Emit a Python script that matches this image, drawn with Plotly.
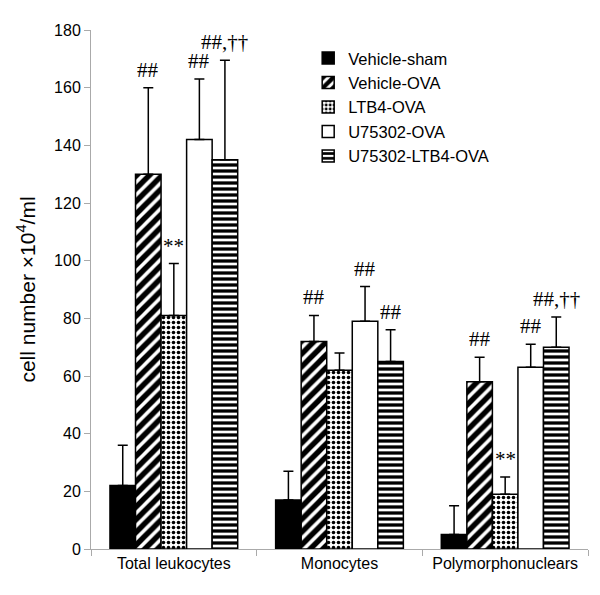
import plotly.graph_objects as go

categories = ["Total leukocytes", "Monocytes", "Polymorphonuclears"]
series_names = ["Vehicle-sham", "Vehicle-OVA", "LTB4-OVA", "U75302-OVA", "U75302-LTB4-OVA"]
vehicle_sham = [22, 17, 5]
vehicle_sham_err = [14, 10, 10]
vehicle_ova = [130, 72, 58]
vehicle_ova_err = [30, 9, 8.5]
ltb4_ova = [81, 62, 19]
ltb4_ova_err = [18, 6, 6]
u75302_ova = [142, 79, 63]
u75302_ova_err = [21, 12, 8]
u75302_ltb4_ova = [135, 65, 70]
u75302_ltb4_ova_err = [34.5, 11, 10.5]
y_ticks = [0, 20, 40, 60, 80, 100, 120, 140, 160, 180]

# significance marks: (category index, series index, text)
marks = [(0, 1, "##"), (0, 2, "**"), (0, 3, "##"), (0, 4, "##,††"),
         (1, 1, "##"), (1, 3, "##"), (1, 4, "##"),
         (2, 1, "##"), (2, 2, "**"), (2, 3, "##"), (2, 4, "##,††")]

values = [vehicle_sham, vehicle_ova, ltb4_ova, u75302_ova, u75302_ltb4_ova]
errors = [vehicle_sham_err, vehicle_ova_err, ltb4_ova_err, u75302_ova_err, u75302_ltb4_ova_err]

styles = [
    dict(color="black"),
    dict(color="white", pattern=dict(shape="/", fgcolor="black", bgcolor="white", fgopacity=1,
                                     size=9, solidity=0.6)),
    dict(color="white", pattern=dict(shape=".", fgcolor="black", bgcolor="white", fgopacity=1,
                                     size=5, solidity=0.4)),
    dict(color="white"),
    dict(color="white", pattern=dict(shape="-", fgcolor="black", bgcolor="white", fgopacity=1,
                                     size=6, solidity=0.55)),
]

fig = go.Figure()
for name, vals, errs, st in zip(series_names, values, errors, styles):
    fig.add_trace(go.Bar(
        x=categories, y=vals, name=name,
        marker=dict(**st, line=dict(color="black", width=1.5)),
        error_y=dict(type="data", array=errs, arrayminus=[0] * len(errs), symmetric=False,
                     color="black", thickness=1.5, width=5),
    ))

plot_w = 497
bargap = 0.229
bar_px = plot_w / len(categories) * (1 - bargap) / len(series_names)
for ci, si, txt in marks:
    top = values[si][ci] + errors[si][ci]
    fig.add_annotation(x=categories[ci], y=top, xref="x", yref="y", text=txt,
                       showarrow=False, yanchor="middle", yshift=18,
                       xshift=(si - 2) * bar_px,
                       font=dict(family="Liberation Serif, Times New Roman, serif", size=21, color="black"))

fig.update_layout(
    width=600, height=595,
    margin=dict(l=83, r=20, t=22, b=54),
    paper_bgcolor="white", plot_bgcolor="white",
    barmode="group", bargap=bargap, bargroupgap=0,
    font=dict(family="Liberation Sans, Arial", color="black"),
    showlegend=True,
    legend=dict(x=0.437, y=0.979, xanchor="left", yanchor="top",
                font=dict(size=16.5, family="Liberation Sans, Arial"),
                bgcolor="rgba(0,0,0,0)", tracegroupgap=0),
)
fig.update_xaxes(type="category", tickson="boundaries", ticks="outside", ticklen=6,
                 tickcolor="#aaaaaa", showline=True, linecolor="#aaaaaa", linewidth=1,
                 showgrid=False, tickfont=dict(size=16))
fig.update_yaxes(range=[0, 180], tickvals=y_ticks, ticks="outside", ticklen=6,
                 tickcolor="#aaaaaa", showline=True, linecolor="#aaaaaa", linewidth=1,
                 showgrid=False, zeroline=False, tickfont=dict(size=16),
                 title=dict(text="cell number ×10<sup>4</sup>/ml", font=dict(size=21), standoff=12))

fig.write_html("out.html")
